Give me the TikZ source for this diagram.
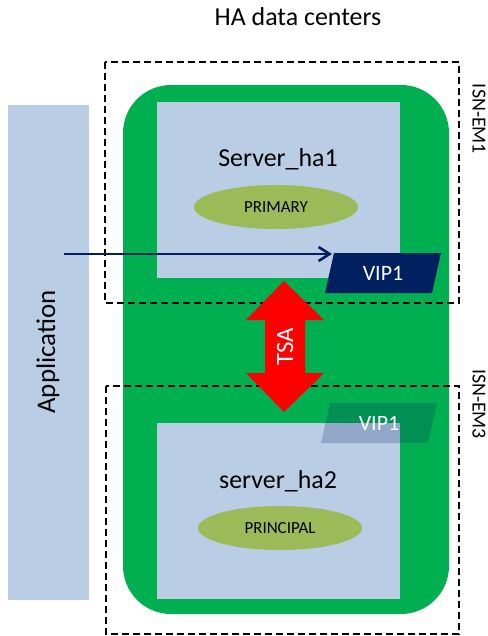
\documentclass[tikz,border=0pt]{standalone}
\usepackage{fontspec}
\setmainfont{Carlito}
\usepackage{tikz}
\usetikzlibrary{positioning,arrows.meta,shapes.geometric}

\definecolor{dcgreen}{HTML}{00B050}
\definecolor{srvblue}{HTML}{B9CDE5}
\definecolor{roleolive}{HTML}{9BBB59}
\definecolor{vipnavy}{HTML}{002060}

\newcommand{\fs}[1]{\fontsize{#1}{#1}\selectfont}

\begin{document}
\begin{tikzpicture}[x=1bp,y=-1bp,
    zone/.style={draw=black,line width=2.4bp,dash pattern=on 7bp off 4bp},
    server/.style={fill=srvblue,minimum width=243bp,minimum height=176bp,inner sep=0pt},
    role/.style={ellipse,fill=roleolive,minimum width=164bp,minimum height=44bp,inner sep=0pt,font=\fs{17}},
    vip/.style={text=white,font=\fs{22}},
    sidelabel/.style={rotate=-90,font=\fs{20}}]
  \useasboundingbox (0,0) rectangle (488,636);

  % application and site
  \node[fill=srvblue,minimum width=81bp,minimum height=495bp,inner sep=0pt] (app) at (48.5,352.5) {};
  \node[rotate=90,font=\fs{27}] (applabel) at (48,352) {Application};
  \fill[dcgreen,rounded corners=48bp] (123,85) rectangle (449,614);
  \node[anchor=base,font=\fs{26}] (title) at (298,26) {HA data centers};

  % servers
  \node[server] (ha1) at (278.5,190) {};
  \node[server] (ha2) at (278.5,511) {};
  \node[anchor=base,font=\fs{26}] (ha1name) at (278,167) {Server\_ha1};
  \node[anchor=base,font=\fs{26}] (ha2name) at (278,488) {server\_ha2};
  \node[role] (primary) at (276,207) {PRIMARY};
  \node[role] (principal) at (280,528) {PRINCIPAL};

  % virtual IPs
  \fill[vipnavy] (325,293) -- (334,253) -- (441,253) -- (432,293) -- cycle;
  \node[vip] (vip1) at (383,273) {VIP1};
  \fill[vipnavy,fill opacity=0.22] (321,443) -- (330,403) -- (437,403) -- (428,443) -- cycle;
  \node[vip] (vip2) at (379,423) {VIP1};

  % ISN zones
  \draw[zone] (105,62) rectangle (459,303);
  \draw[zone] (106,386) rectangle (459,634);
  \node[sidelabel] (em1) at (479,119) {ISN-EM1};
  \node[sidelabel] (em3) at (479,404) {ISN-EM3};

  % TSA link
  \fill[red] (284,281) -- (324,320) -- (305,320) -- (305,373) -- (324,373) -- (284,412)
    -- (246,373) -- (265,373) -- (265,320) -- (246,320) -- cycle;
  \node[rotate=90,text=white,font=\fs{25}] (tsa) at (285,347) {TSA};

  % client traffic
  \coordinate (appout) at (64,254);
  \coordinate (vipin) at (332,254);
  \draw[vipnavy,line width=2.6bp,-{Straight Barb[length=11bp,width=14bp]}] (appout) -- (vipin);
\end{tikzpicture}
\end{document}
